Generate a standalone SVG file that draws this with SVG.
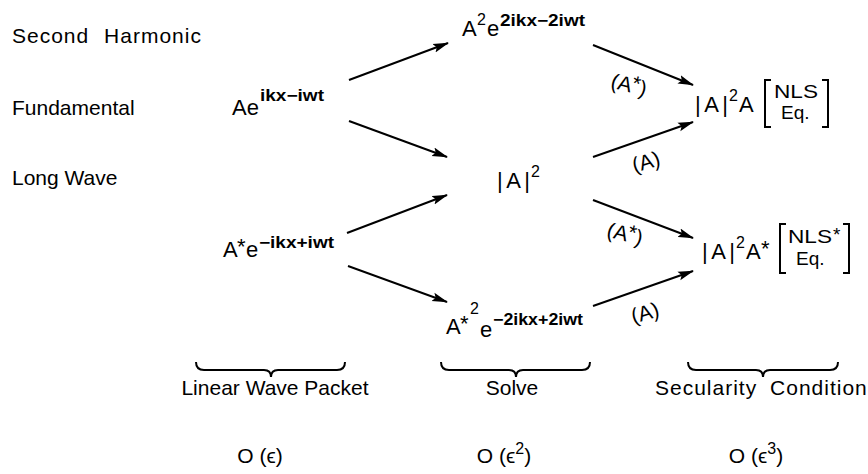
<svg xmlns="http://www.w3.org/2000/svg" width="868" height="474" viewBox="0 0 868 474">
<style>
text{font-family:"Liberation Sans",Arial,sans-serif;fill:#000}
.t{font-size:21px}
.m{font-size:22px}
.s{font-size:16px}
.x{font-size:16px;font-weight:bold}
.b{font-size:19px}
.l{font-size:21px}
.c line{stroke:#000;stroke-width:2;marker-end:url(#ah)}
.br{fill:none;stroke:#000;stroke-width:2}
</style>
<defs>
<marker id="ah" markerUnits="userSpaceOnUse" markerWidth="16" markerHeight="10" refX="15" refY="5" orient="auto">
<path d="M0,0.5 L16,5 L0,9.5 L3,5 Z" fill="#000"/>
</marker>
</defs>
<rect width="868" height="474" fill="#fff"/>
<g id="rowlabels">
<text class="t" x="12" y="43" letter-spacing="1" word-spacing="8">Second Harmonic</text>
<text class="t" x="12" y="115">Fundamental</text>
<text class="t" x="12" y="185">Long Wave</text>
</g>
<g id="n1">
<text class="m" x="232" y="115">Ae</text>
<text class="x" x="260" y="101" textLength="64" lengthAdjust="spacingAndGlyphs">ikx−iwt</text>
</g>
<g id="n2">
<text class="m" x="462" y="36">A</text>
<text class="s" x="477" y="25">2</text>
<text class="m" x="487" y="36">e</text>
<text class="x" x="500" y="26" textLength="85" lengthAdjust="spacingAndGlyphs">2ikx−2iwt</text>
</g>
<g id="n3">
<text class="m" x="497" y="188" textLength="33" lengthAdjust="spacing">|A|</text>
<text class="s" x="531" y="177">2</text>
</g>
<g id="n4">
<text class="m" x="223" y="257">A</text>
<text class="m" x="237" y="254">*</text>
<text class="m" x="246" y="257">e</text>
<text class="x" x="259" y="248" textLength="75" lengthAdjust="spacingAndGlyphs">−ikx+iwt</text>
</g>
<g id="n5">
<text class="m" x="446" y="334">A</text>
<text class="m" x="460" y="331">*</text>
<text class="s" x="470" y="314">2</text>
<text class="m" x="480" y="337">e</text>
<text class="x" x="493" y="325" textLength="90" lengthAdjust="spacingAndGlyphs">−2ikx+2iwt</text>
</g>
<g id="n6">
<text class="m" x="695" y="112" textLength="33" lengthAdjust="spacing">|A|</text>
<text class="s" x="729" y="101">2</text>
<text class="m" x="739" y="112">A</text>
<path class="br" d="M771,80 H765 V127 H771"/>
<text class="b" x="774" y="98" textLength="44" lengthAdjust="spacingAndGlyphs">NLS</text>
<text class="b" x="781" y="119">Eq.</text>
<path class="br" d="M822,80 H828 V127 H822"/>
</g>
<g id="n7">
<text class="m" x="702" y="259" textLength="33" lengthAdjust="spacing">|A|</text>
<text class="s" x="736" y="248">2</text>
<text class="m" x="746" y="259">A</text>
<text class="m" x="761" y="256">*</text>
<path class="br" d="M786,224 H780 V273 H786"/>
<text class="b" x="788" y="243" textLength="44" lengthAdjust="spacingAndGlyphs">NLS</text>
<text class="b" x="833" y="241">*</text>
<text class="b" x="796" y="265">Eq.</text>
<path class="br" d="M843,224 H849 V273 H843"/>
</g>
<g id="connectors" class="c">
<line x1="349" y1="80" x2="448" y2="43"/>
<line x1="349" y1="121" x2="447" y2="157"/>
<line x1="347" y1="233" x2="447" y2="195"/>
<line x1="348" y1="266" x2="447" y2="302"/>
<line x1="593" y1="45" x2="693" y2="85"/>
<line x1="593" y1="157" x2="693" y2="122"/>
<line x1="593" y1="200" x2="693" y2="238"/>
<line x1="593" y1="306" x2="693" y2="271"/>
</g>
<g id="edgelabels">
<text class="l" x="629" y="92" text-anchor="middle" transform="rotate(14 629 85)">(A<tspan dy="-3">*</tspan><tspan dy="3">)</tspan></text>
<text class="l" x="646" y="169" text-anchor="middle" transform="rotate(-16 646 162)">(A)</text>
<text class="l" x="625" y="241" text-anchor="middle" transform="rotate(14 625 234)">(A<tspan dy="-3">*</tspan><tspan dy="3">)</tspan></text>
<text class="l" x="645" y="320" text-anchor="middle" transform="rotate(-16 645 313)">(A)</text>
</g>
<g id="braces">
<path class="br" d="M196,362 q0,8 8,8 H264 q7,0 7,7 q0,-7 7,-7 H337 q8,0 8,-8"/>
<path class="br" d="M441,362 q0,8 8,8 H509 q7,0 7,7 q0,-7 7,-7 H582 q8,0 8,-8"/>
<path class="br" d="M688,362 q0,8 8,8 H756 q7,0 7,7 q0,-7 7,-7 H830 q8,0 8,-8"/>
</g>
<g id="steps">
<text class="t" x="275" y="395" text-anchor="middle">Linear Wave Packet</text>
<text class="t" x="512" y="395" text-anchor="middle">Solve</text>
<text class="t" x="655" y="395" letter-spacing="1" word-spacing="6">Secularity Condition</text>
</g>
<g id="orders">
<text class="t" x="260" y="463" text-anchor="middle">O (ϵ)</text>
<text class="t" x="504" y="463" text-anchor="middle">O (ϵ<tspan class="s" dy="-9">2</tspan><tspan dy="9">)</tspan></text>
<text class="t" x="756" y="463" text-anchor="middle">O (ϵ<tspan class="s" dy="-9">3</tspan><tspan dy="9">)</tspan></text>
</g>
</svg>
